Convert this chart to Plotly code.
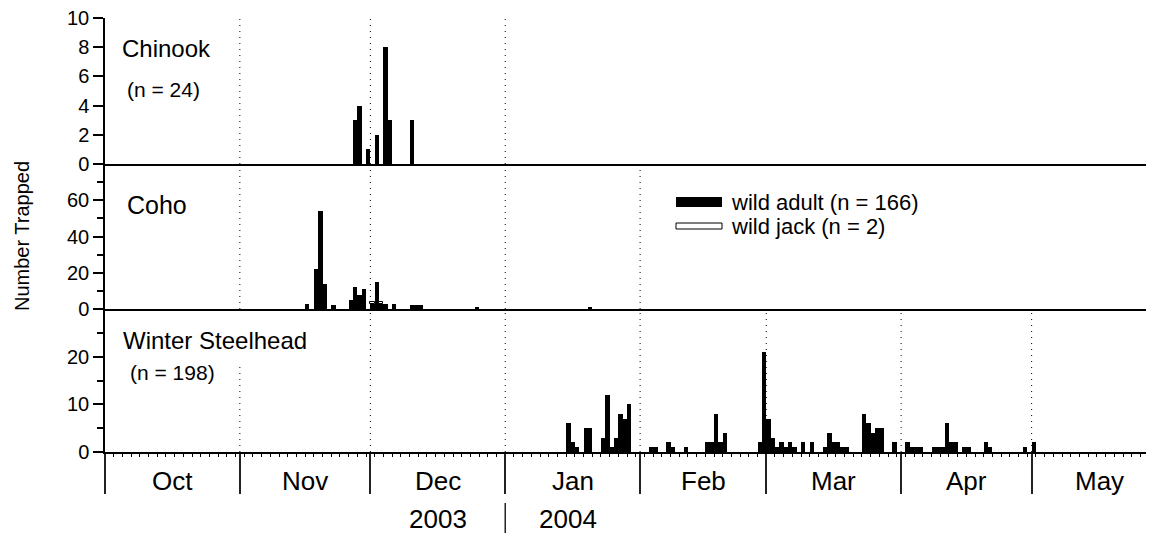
import pandas as pd
import plotly.graph_objects as go

# ---------------- data ----------------
chinook_dates = ["2003-11-27", "2003-11-28", "2003-11-30", "2003-12-02",
                 "2003-12-04", "2003-12-05", "2003-12-10"]
chinook_counts = [3, 4, 1, 2, 8, 3, 3]

coho_dates = ["2003-11-16", "2003-11-18", "2003-11-19", "2003-11-20", "2003-11-22",
              "2003-11-26", "2003-11-27", "2003-11-28", "2003-11-29",
              "2003-12-01", "2003-12-02", "2003-12-03", "2003-12-04", "2003-12-06",
              "2003-12-10", "2003-12-11", "2003-12-12", "2003-12-25", "2004-01-20"]
coho_adult = [3, 22, 54, 14, 2, 5, 12, 8, 11, 3, 15, 3, 3, 3, 2, 2, 2, 1, 1]
coho_jack_dates = ["2003-12-01", "2003-12-03"]
coho_jack = [1, 1]

steel_dates = ["2004-01-15", "2004-01-16", "2004-01-17", "2004-01-19", "2004-01-20",
               "2004-01-23", "2004-01-24", "2004-01-25", "2004-01-26", "2004-01-27",
               "2004-01-28", "2004-01-29",
               "2004-02-03", "2004-02-04", "2004-02-07", "2004-02-08", "2004-02-11",
               "2004-02-16", "2004-02-17", "2004-02-18", "2004-02-19", "2004-02-20",
               "2004-02-28", "2004-02-29",
               "2004-03-01", "2004-03-02", "2004-03-03", "2004-03-04", "2004-03-05",
               "2004-03-06", "2004-03-07", "2004-03-09", "2004-03-11", "2004-03-14",
               "2004-03-15", "2004-03-16", "2004-03-17", "2004-03-18", "2004-03-19",
               "2004-03-23", "2004-03-24", "2004-03-25", "2004-03-26", "2004-03-27",
               "2004-03-30",
               "2004-04-02", "2004-04-03", "2004-04-04", "2004-04-05", "2004-04-08",
               "2004-04-09", "2004-04-10", "2004-04-11", "2004-04-12", "2004-04-13",
               "2004-04-15", "2004-04-16", "2004-04-20", "2004-04-21", "2004-04-29",
               "2004-05-01"]
steel_counts = [6, 2, 1, 5, 5, 3, 12, 1, 3, 8, 7, 10,
                1, 1, 2, 1, 1, 2, 2, 8, 2, 4, 2, 21,
                7, 3, 1, 2, 1, 2, 1, 2, 2, 1, 4, 2, 2, 1, 1, 8, 6, 4, 5, 5, 2,
                2, 1, 1, 1, 1, 1, 1, 6, 2, 2, 1, 1, 2, 1, 1,
                2]

month_starts = ["2003-10-01", "2003-11-01", "2003-12-01", "2004-01-01", "2004-02-01",
                "2004-03-01", "2004-04-01", "2004-05-01", "2004-06-01"]
month_labels = ["Oct", "Nov", "Dec", "Jan", "Feb", "Mar", "Apr", "May"]
year_labels = ["2003", "2004"]
x_range = ["2003-10-01", "2004-05-29 03:00"]

# ---------------- geometry helpers ----------------
OFF = 8                      # page body margin of the html output
W, H = 1154 - OFF, 533 - OFF
ML, MR, MT = 105 - OFF, 0, 18 - OFF
PH = 434
MB = H - MT - PH
PW = W - ML - MR


def py(pix):  # page pixel row -> paper y
    return (H - MB - (pix - OFF)) / PH


def px(pix):  # page pixel column -> paper x
    return (pix - OFF - ML) / PW


FONT = "Liberation Sans, Arial, sans-serif"
DAY_MS = 86400000


def centers(dates):
    return pd.to_datetime(dates) + pd.Timedelta(hours=12)


fig = go.Figure()

fig.add_trace(go.Bar(x=centers(chinook_dates), y=chinook_counts, width=DAY_MS,
                     marker=dict(color="black", line=dict(width=0)),
                     xaxis="x", yaxis="y", showlegend=False))
fig.add_trace(go.Bar(x=centers(coho_dates), y=coho_adult, width=DAY_MS,
                     marker=dict(color="black", line=dict(width=0)),
                     xaxis="x2", yaxis="y2", showlegend=False))
fig.add_trace(go.Bar(x=centers(coho_jack_dates), y=coho_jack, width=DAY_MS,
                     base=[coho_adult[coho_dates.index(d)] for d in coho_jack_dates],
                     marker=dict(color="white", line=dict(width=1, color="black")),
                     xaxis="x2", yaxis="y2", showlegend=False))
fig.add_trace(go.Bar(x=centers(steel_dates), y=steel_counts, width=DAY_MS,
                     marker=dict(color="black", line=dict(width=0)),
                     xaxis="x3", yaxis="y3", showlegend=False))

d3 = 143 / PH
d2 = 288 / PH

common_x = dict(range=x_range, type="date", showgrid=False, zeroline=False,
                showline=True, linecolor="black", linewidth=2, mirror=False)
common_y = dict(showgrid=False, zeroline=False, showline=True, linecolor="black",
                linewidth=1.5, ticks="outside", ticklen=10, tickwidth=1.5,
                tickcolor="black", tickfont=dict(size=20, family=FONT, color="black"),
                ticklabeloverflow="allow", fixedrange=True)

fig.update_layout(
    width=W, height=H,
    margin=dict(l=ML, r=MR, t=MT, b=MB),
    paper_bgcolor="white", plot_bgcolor="white",
    bargap=0, barmode="overlay",
    font=dict(family=FONT, color="black"),
    xaxis=dict(**common_x, anchor="y", showticklabels=False, ticks=""),
    xaxis2=dict(**common_x, anchor="y2", showticklabels=False, ticks="", matches="x"),
    xaxis3=dict(**common_x, anchor="y3", matches="x", showticklabels=False,
                ticks="outside", tickmode="array", tickvals=month_starts[:-1],
                ticklen=40, tickwidth=1.5, tickcolor="#222",
                minor=dict(ticks="outside", tickmode="linear", tick0="2003-10-01",
                           dtick=2 * DAY_MS, ticklen=3, tickwidth=1, tickcolor="black")),
    yaxis=dict(**common_y, domain=[d2, 1], range=[0, 10], tickmode="array",
               tickvals=[0, 2, 4, 6, 8, 10]),
    yaxis2=dict(**common_y, domain=[d3, d2], range=[0, 80], tickmode="array",
                tickvals=[0, 20, 40, 60],
                minor=dict(ticks="outside", tickmode="array", tickvals=[10, 30, 50, 70],
                           ticklen=6, tickwidth=1.5, tickcolor="black")),
    yaxis3=dict(**common_y, domain=[0, d3], range=[0, 30], tickmode="array",
                tickvals=[0, 10, 20],
                minor=dict(ticks="outside", tickmode="array", tickvals=[5, 15, 25],
                           ticklen=6, tickwidth=1.5, tickcolor="black")),
)

# ---------------- dotted month separators ----------------
shapes = []
dot = dict(color="black", width=1, dash="1px,5px")
for ms in month_starts[1:4]:
    shapes.append(dict(type="line", xref="x", yref="y", x0=ms, x1=ms, y0=0, y1=10,
                       line=dot, layer="below"))
for ms in month_starts[1:5]:
    shapes.append(dict(type="line", xref="x2", yref="y2", x0=ms, x1=ms, y0=0, y1=80,
                       line=dot, layer="below"))
for i, ms in enumerate(month_starts[1:8]):
    top = 18.7 if i == 0 else 30
    shapes.append(dict(type="line", xref="x3", yref="y3", x0=ms, x1=ms, y0=0, y1=top,
                       line=dot, layer="below"))
# year separator
shapes.append(dict(type="line", xref="x3", yref="paper", x0=month_starts[3],
                   x1=month_starts[3], y0=py(503), y1=py(533),
                   line=dict(color="#222", width=1.5)))
# legend swatches
shapes.append(dict(type="rect", xref="paper", yref="paper", x0=px(676), x1=px(722),
                   y0=py(207), y1=py(197), fillcolor="black", line=dict(width=0)))
shapes.append(dict(type="rect", xref="paper", yref="paper", x0=px(676), x1=px(722),
                   y0=py(229), y1=py(223), fillcolor="white",
                   line=dict(width=1, color="black")))
fig.update_layout(shapes=shapes)

# ---------------- text ----------------
ann = []
ms = pd.to_datetime(month_starts)
for i, lab in enumerate(month_labels):
    mid = ms[i] + (ms[i + 1] - ms[i]) / 2
    ann.append(dict(x=mid, y=py(481), xref="x3", yref="paper", text=lab,
                    showarrow=False, font=dict(size=26), xanchor="center",
                    yanchor="middle"))
ann.append(dict(x=ms[2] + (ms[3] - ms[2]) / 2, y=py(519), xref="x3", yref="paper",
                text=year_labels[0], showarrow=False, font=dict(size=26),
                xanchor="center", yanchor="middle"))
ann.append(dict(x=ms[3] + (ms[4] - ms[3]) / 2 - pd.Timedelta(days=1), y=py(519),
                xref="x3", yref="paper", text=year_labels[1], showarrow=False,
                font=dict(size=26), xanchor="center", yanchor="middle"))

titles = [("Chinook", 120, 48, 24), (f"(n = {sum(chinook_counts)})", 125, 89, 21),
          ("Coho", 125, 205, 25), ("Winter Steelhead", 121, 340, 24),
          (f"(n = {sum(steel_counts)})", 128, 372, 21),
          (f"wild adult (n = {sum(coho_adult)})", 729, 202, 22),
          (f"wild jack (n = {sum(coho_jack)})", 729, 226, 22)]
for txt, xp, yp, sz in titles:
    ann.append(dict(x=px(xp), y=py(yp), xref="paper", yref="paper", text=txt,
                    showarrow=False, font=dict(size=sz), xanchor="left",
                    yanchor="middle"))

ann.append(dict(x=px(22), y=py(236), xref="paper", yref="paper", text="Number Trapped",
                textangle=-90, showarrow=False, font=dict(size=20),
                xanchor="center", yanchor="middle"))
fig.update_layout(annotations=ann)

fig.write_html("out.html")
